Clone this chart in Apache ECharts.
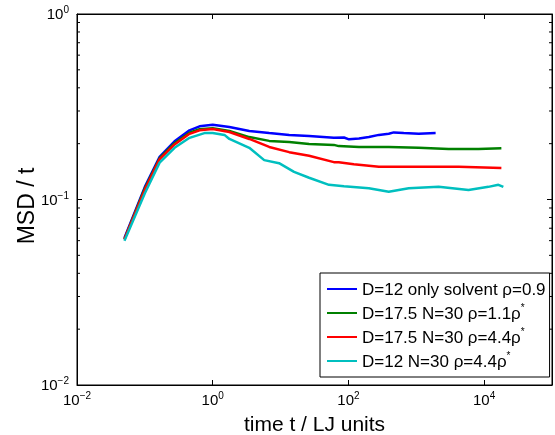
<!DOCTYPE html>
<html><head><meta charset="utf-8">
<script src="https://cdn.jsdelivr.net/npm/echarts@6/dist/echarts.min.js"></script>
<style>html,body{margin:0;padding:0;background:#fff}#c{width:555px;height:435px}</style>
</head><body><div id="c"></div>
<script>
var seriesNames = ['D=12 only solvent ρ=0.9', 'D=17.5 N=30 ρ=1.1ρ*', 'D=17.5 N=30 ρ=4.4ρ*', 'D=12 N=30 ρ=4.4ρ*'];
var blueX = [0.05,0.1,0.165,0.274,0.455,0.64,1.0,1.76,3.46,6.8,13.4,26.3,61,86,102,143,200,281,393,466,653,1084,1928];
var blueY = [0.062,0.117,0.17,0.206,0.236,0.248,0.253,0.246,0.234,0.228,0.223,0.22,0.215,0.216,0.211,0.213,0.217,0.223,0.226,0.23,0.228,0.226,0.228];
var greenX = [0.05,0.1,0.165,0.274,0.455,0.64,1.0,1.76,3.46,6.8,13.4,26.3,61,72,143,393,1084,2992,8245,17950];
var greenY = [0.061,0.115,0.167,0.201,0.229,0.239,0.242,0.234,0.217,0.207,0.204,0.199,0.197,0.194,0.192,0.192,0.19,0.187,0.187,0.189];
var redX = [0.05,0.1,0.165,0.274,0.455,0.64,1.0,1.76,3.46,6.8,13.4,26.3,61,72,120,281,1084,4196,17950];
var redY = [0.061,0.113,0.165,0.198,0.226,0.236,0.240,0.231,0.212,0.192,0.18,0.172,0.159,0.159,0.155,0.15,0.15,0.15,0.148];
var cyanX = [0.05,0.1,0.165,0.274,0.455,0.755,1.0,1.49,1.76,3.46,5.74,9.5,15.8,26.3,51.7,86,200,393,774,2133,5884,11560,16220,19190];
var cyanY = [0.06,0.108,0.158,0.19,0.215,0.228,0.228,0.223,0.212,0.19,0.163,0.157,0.141,0.131,0.12,0.118,0.115,0.11,0.115,0.117,0.1125,0.117,0.12,0.117];
var xTickVals = [0.01, 1, 100, 10000];
var yTickVals = [0.01, 0.1, 1];
var yMinorTicks = [0.02,0.03,0.04,0.05,0.06,0.07,0.08,0.09,0.2,0.3,0.4,0.5,0.6,0.7,0.8,0.9];
var colors = ['#0000ff', '#008000', '#ff0000', '#00bfbf'];

var FONT = 'Liberation Sans';
function zip(xs, ys) { return xs.map(function (x, i) { return [x, ys[i]]; }); }
var rich = {
  b: { fontSize: 15, fontFamily: FONT, color: '#000', verticalAlign: 'bottom' },
  s: { fontSize: 10, fontFamily: FONT, color: '#000', verticalAlign: 'top', padding: [0, 0, 7, 0] }
};
function powLabel(v) {
  var e = Math.round(Math.log10(v));
  return '{b|10}{s|' + (e < 0 ? '\u2212' + (-e) : e) + '}';
}
var legendRich = {
  t: { fontSize: 17, fontFamily: FONT, color: '#000', verticalAlign: 'bottom' },
  s: { fontSize: 10, fontFamily: FONT, color: '#000', verticalAlign: 'top', padding: [0, 0, 6, 0] }
};
var chart = echarts.init(document.getElementById('c'));
var dataSets = [zip(blueX, blueY), zip(greenX, greenY), zip(redX, redY), zip(cyanX, cyanY)];
var series = dataSets.map(function (d, i) {
  return { name: seriesNames[i], type: 'line', data: d, showSymbol: false, symbol: 'none',
    lineStyle: { color: colors[i], width: 2.5 }, itemStyle: { color: colors[i] }, z: 3 };
});
series.push({
  type: 'custom', silent: true, data: yMinorTicks.map(function (v) { return [v]; }),
  encode: { y: 0 },
  renderItem: function (params, api) {
    var v = api.value(0);
    var l = api.coord([0.01, v]); var r = api.coord([100000, v]);
    return { type: 'group', children: [
      { type: 'line', shape: { x1: l[0], y1: l[1], x2: l[0] + 3, y2: l[1] }, style: { stroke: '#000', lineWidth: 1 } },
      { type: 'line', shape: { x1: r[0], y1: r[1], x2: r[0] - 3, y2: r[1] }, style: { stroke: '#000', lineWidth: 1 } }
    ] };
  }, z: 2
});
function axisCommon(vals) {
  return {
    axisLine: { show: true, lineStyle: { color: '#000', width: 1 } },
    axisTick: { show: true, inside: true, length: 5, lineStyle: { color: '#000' }, customValues: vals },
    splitLine: { show: false }
  };
}
chart.setOption({
  animation: false,
  backgroundColor: '#fff',
  grid: { left: 77, right: 3, top: 14, bottom: 50, outerBoundsMode: 'none', containLabel: false,
    show: true, borderColor: '#000', borderWidth: 1, backgroundColor: '#fff' },
  legend: {
    orient: 'vertical', left: 320, top: 273, padding: [6, 4, 6, 7],
    backgroundColor: '#fff', borderColor: '#000', borderWidth: 1, borderRadius: 0,
    itemWidth: 30, itemHeight: 2, icon: 'rect', itemGap: 4,
    data: seriesNames,
    formatter: function (n) {
      if (n.slice(-1) === '*') return '{t|' + n.slice(0, -1) + '}{s|*}';
      return '{t|' + n + '}';
    },
    textStyle: { fontFamily: FONT, fontSize: 17, color: '#000', lineHeight: 20, rich: legendRich }
  },
  xAxis: [
    Object.assign({ type: 'log', logBase: 10, min: 0.01, max: 100000,
      name: 'time t / LJ units', nameLocation: 'middle', nameGap: 30, nameMoveOverlap: false,
      nameTextStyle: { fontFamily: FONT, fontSize: 21, color: '#000' },
      axisLabel: { margin: 6, customValues: xTickVals, formatter: powLabel, rich: rich }
    }, axisCommon(xTickVals)),
    Object.assign({ type: 'log', logBase: 10, min: 0.01, max: 100000, position: 'top',
      axisLabel: { show: false } }, axisCommon(xTickVals))
  ],
  yAxis: [
    Object.assign({ type: 'log', logBase: 10, min: 0.01, max: 1,
      name: 'MSD / t', nameLocation: 'middle', nameGap: 38, nameMoveOverlap: false,
      nameTextStyle: { fontFamily: FONT, fontSize: 23, color: '#000', padding: [0, 13, 0, 0] },
      axisLabel: { margin: 8, customValues: yTickVals, formatter: powLabel, rich: rich }
    }, axisCommon(yTickVals)),
    Object.assign({ type: 'log', logBase: 10, min: 0.01, max: 1, position: 'right',
      axisLabel: { show: false } }, axisCommon(yTickVals))
  ],
  series: series
});
</script></body></html>
